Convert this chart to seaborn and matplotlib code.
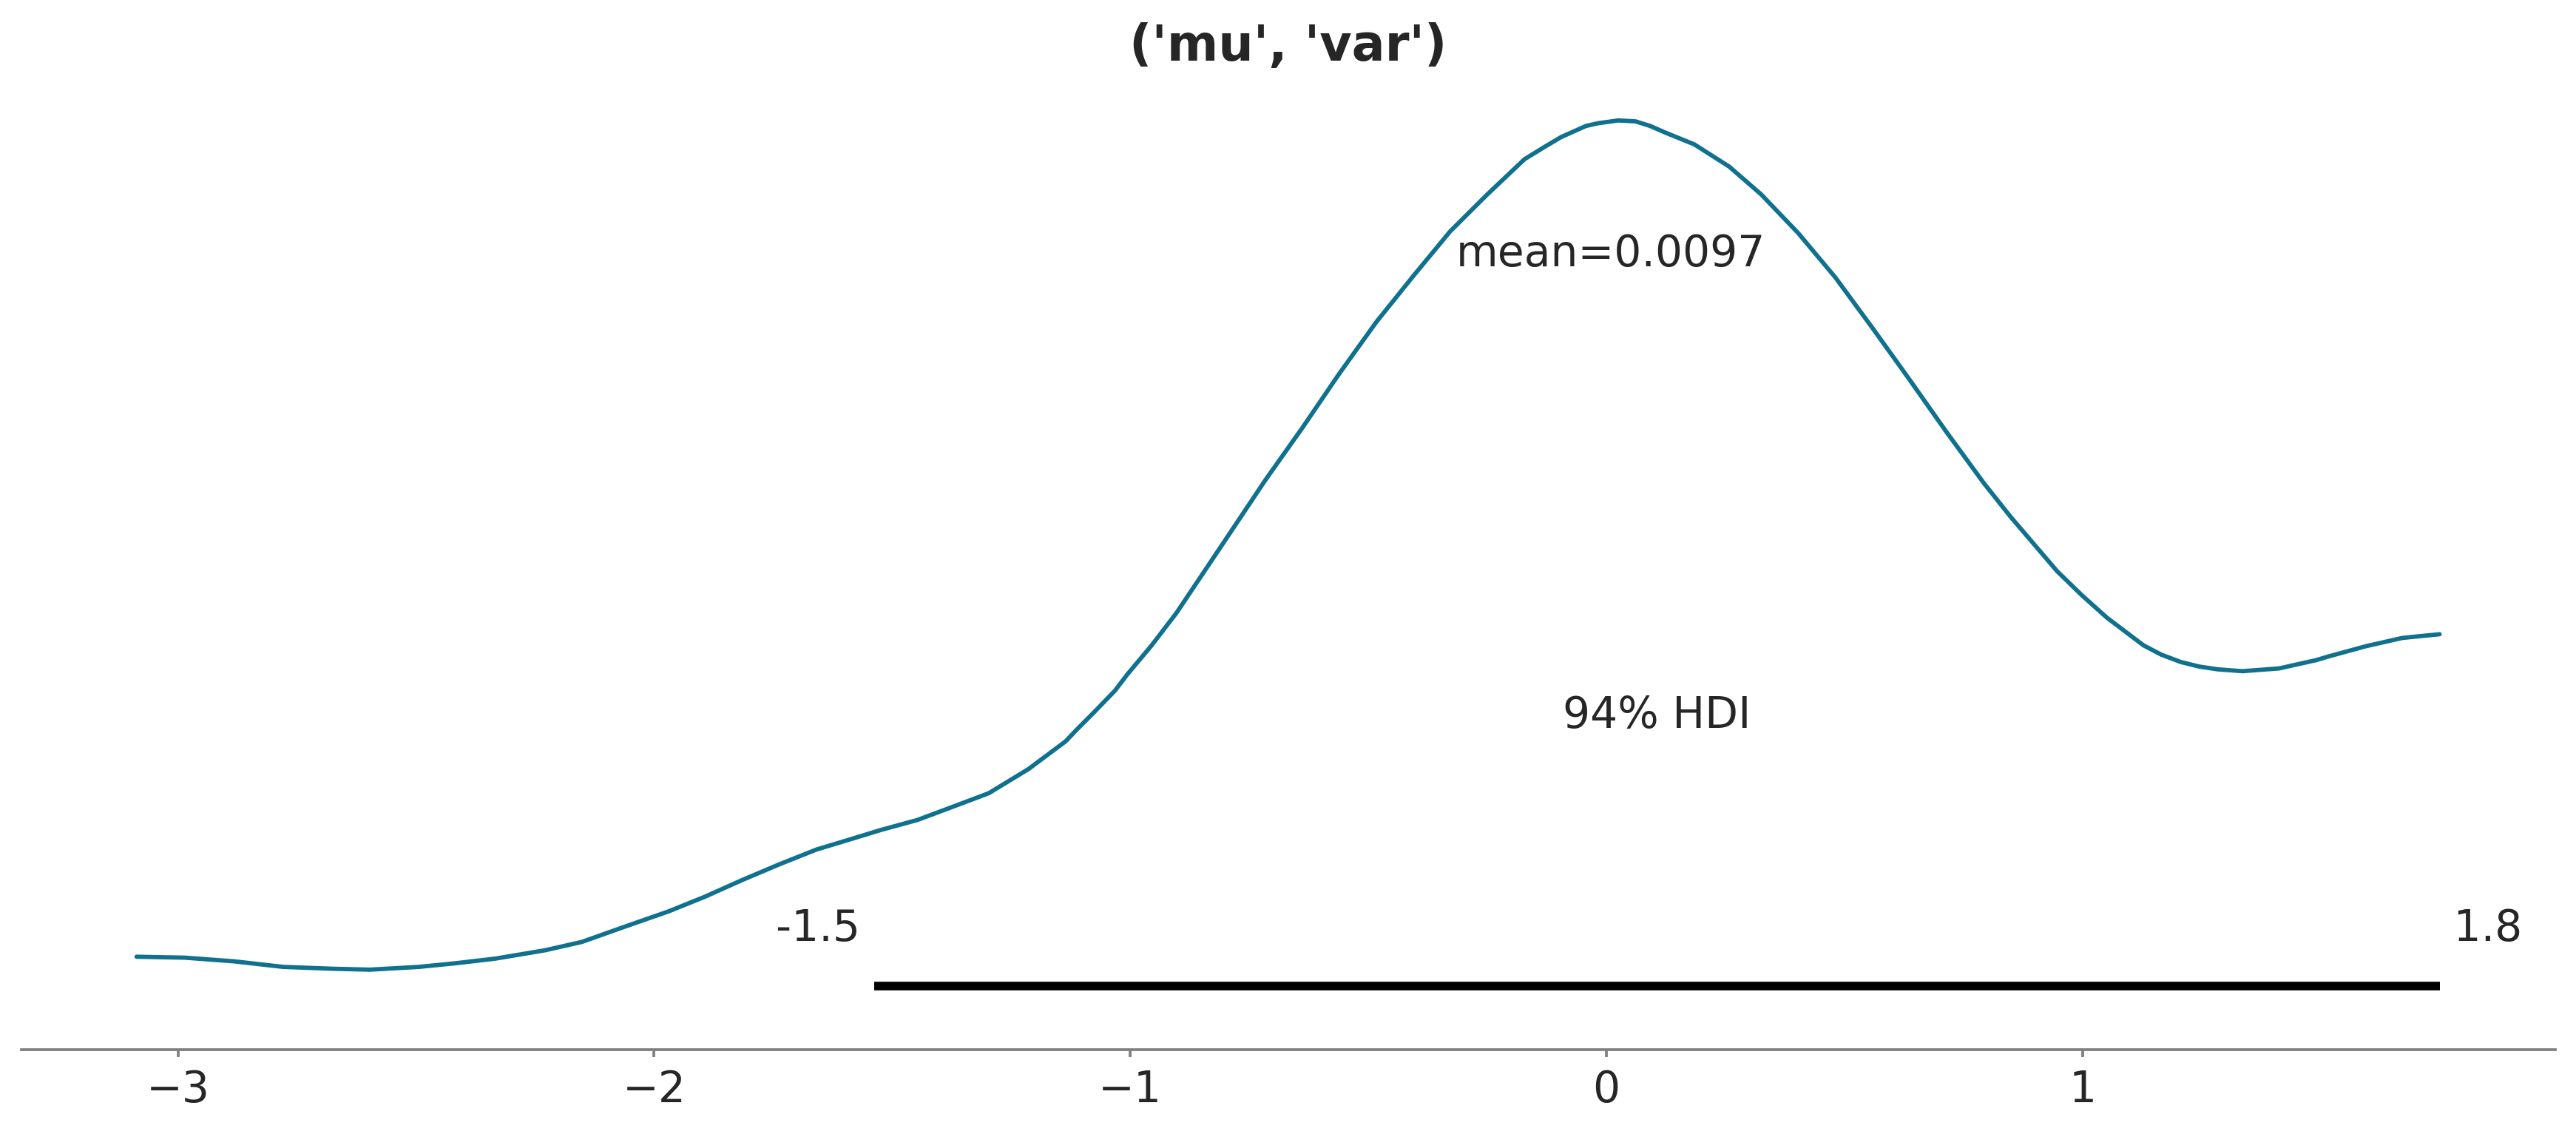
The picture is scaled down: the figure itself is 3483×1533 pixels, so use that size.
import numpy as np
import pandas as pd
import seaborn as sns
import matplotlib.pyplot as plt

# ── posterior density of ('mu', 'var') ───────────────────────────────────
kde_x = [-3.087, -2.986, -2.882, -2.779, -2.675, -2.597, -2.494, -2.416, -2.333,
         -2.229, -2.152, -2.048, -1.970, -1.893, -1.815, -1.737, -1.659, -1.582,
         -1.525, -1.447, -1.369, -1.297, -1.214, -1.136, -1.110, -1.079, -1.032,
         -1.007, -0.955, -0.903, -0.851, -0.799, -0.716, -0.639, -0.561, -0.483,
         -0.405, -0.328, -0.250, -0.172, -0.131, -0.095, -0.043, -0.017, 0.025,
         0.061, 0.092, 0.123, 0.185, 0.258, 0.325, 0.403, 0.481, 0.558, 0.636,
         0.714, 0.792, 0.849, 0.947, 0.999, 1.051, 1.128, 1.165, 1.206, 1.245,
         1.284, 1.336, 1.413, 1.491, 1.517, 1.595, 1.672, 1.750]
density = [0.052, 0.051, 0.047, 0.041, 0.039, 0.038, 0.041, 0.045, 0.050,
           0.059, 0.068, 0.087, 0.101, 0.117, 0.135, 0.152, 0.168, 0.180,
           0.189, 0.200, 0.215, 0.229, 0.255, 0.285, 0.299, 0.315, 0.340,
           0.357, 0.389, 0.424, 0.464, 0.504, 0.568, 0.624, 0.683, 0.739,
           0.789, 0.837, 0.877, 0.915, 0.928, 0.939, 0.951, 0.954, 0.957,
           0.956, 0.951, 0.944, 0.931, 0.907, 0.877, 0.835, 0.787, 0.733, 0.677,
           0.620, 0.565, 0.528, 0.469, 0.443, 0.419, 0.389, 0.379, 0.371, 0.366,
           0.363, 0.361, 0.364, 0.373, 0.377, 0.388, 0.397, 0.401]

var_name = "('mu', 'var')"
mean_value = 0.0097
hdi_prob = 0.94
hdi_bounds = [-1.538, 1.751]
hdi_labels = ["-1.5", "1.8"]

line_color = "#0f718e"
text_color = "#262626"
lw = 1.4
fs = 14

df = pd.DataFrame({"x": kde_x, "density": density})

sns.set_theme(style="white")
plt.rcParams["font.family"] = ["DejaVu Sans"]

fig, ax = plt.subplots(figsize=(11.613, 5.113), dpi=300)
fig.subplots_adjust(left=0.0083, right=0.9917, bottom=0.0743, top=0.9283)

# ── 1) density curve ─────────────────────────────────────────────────────
sns.lineplot(data=df, x="x", y="density", ax=ax, color=line_color,
             linewidth=lw, sort=False, estimator=None, solid_capstyle="round",
             solid_joinstyle="round")

ax.set_ylim(-0.0486, 1.0)
plot_height = ax.get_ylim()[1]

# ── 2) HDI bar and labels ────────────────────────────────────────────────
ax.plot(hdi_bounds, [plot_height * 0.02] * 2, lw=lw * 2, color="#000000",
        solid_capstyle="butt")
ax.text(hdi_bounds[0], plot_height * 0.07, hdi_labels[0] + " ", size=fs,
        ha="right", color=text_color)
ax.text(hdi_bounds[1], plot_height * 0.07, " " + hdi_labels[1], size=fs,
        ha="left", color=text_color)
ax.text(sum(hdi_bounds) / 2, plot_height * 0.3, f"{hdi_prob:.0%} HDI",
        size=fs, ha="center", color=text_color)

# ── 3) mean label ────────────────────────────────────────────────────────
ax.text(mean_value, plot_height * 0.8, f"mean={mean_value:.2g}", size=fs,
        ha="center", color=text_color)

# ── 4) axes cosmetics ────────────────────────────────────────────────────
ax.set_title(var_name, fontsize=16, fontweight="bold", color=text_color, pad=6.7)
ax.set_xlabel("")
ax.set_ylabel("")
ax.set_yticks([])
for side in ["left", "top", "right"]:
    ax.spines[side].set_visible(False)
ax.spines["bottom"].set_color("#808080")
ax.spines["bottom"].set_linewidth(0.9)
ax.tick_params(axis="x", bottom=True, color="#808080", length=2.5, width=0.9,
               labelsize=14, labelcolor=text_color, pad=3.6)

fig.savefig("out.png", dpi=300)
